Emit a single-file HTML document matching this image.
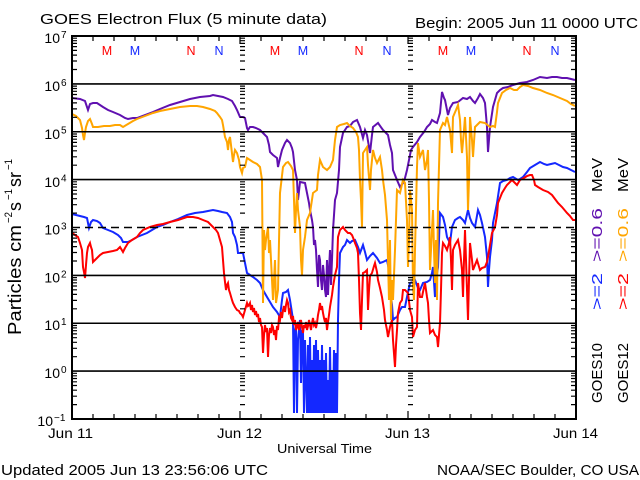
<!DOCTYPE html>
<html><head><meta charset="utf-8"><style>
html,body{margin:0;padding:0;background:#fff;}
svg{display:block;}
text{font-family:"Liberation Sans",sans-serif;fill:#000;}
</style></head><body>
<svg width="640" height="480" viewBox="0 0 640 480" xmlns="http://www.w3.org/2000/svg">
<rect width="640" height="480" fill="#fff"/>
<defs>
<path id="yt" stroke="#000" stroke-width="1.2" fill="none" d="M0 404.6h5M0 396.2h5M0 390.2h5M0 385.5h5M0 381.8h5M0 378.5h5M0 375.8h5M0 373.3h5M0 356.7h5M0 348.3h5M0 342.3h5M0 337.7h5M0 333.9h5M0 330.7h5M0 327.9h5M0 325.5h5M0 308.8h5M0 300.4h5M0 294.4h5M0 289.8h5M0 286h5M0 282.8h5M0 280h5M0 277.6h5M0 261h5M0 252.5h5M0 246.6h5M0 241.9h5M0 238.1h5M0 234.9h5M0 232.2h5M0 229.7h5M0 213.1h5M0 204.7h5M0 198.7h5M0 194h5M0 190.3h5M0 187h5M0 184.3h5M0 181.8h5M0 165.2h5M0 156.8h5M0 150.8h5M0 146.2h5M0 142.4h5M0 139.2h5M0 136.4h5M0 134h5M0 117.3h5M0 108.9h5M0 102.9h5M0 98.3h5M0 94.5h5M0 91.3h5M0 88.5h5M0 86.1h5M0 69.5h5M0 61h5M0 55.1h5M0 50.4h5M0 46.6h5M0 43.4h5M0 40.7h5M0 38.2h5"/>
</defs>

<!-- series -->
<g fill="none" stroke-width="2" stroke-linejoin="miter">
<polyline stroke="#6010b0" points="72,98 80,99 85,101 88,110 90,104 93,103 97,103 103,107 108,110 113,112 120,115 125,118 128,119 133,118 137,118 145,115 153,112 160,109 170,105 180,102 190,99 200,97 210,96 213,95 218,96 223,97 228,99 232,101 235,106 237,110 240,117 243,117 245,118 247,128 248,130 250,127 253,127 256,128 260,130 264,134 267,137 269,145 270,152 273,155 277,158 278,167 280,158 282,150 285,143 287,140 290,143 292,148 293,152 295,170 297,180 298,200 300,182 305,183 307,193 309,203 310,210 312,220 313,227 314,245 315,240 316,250 317,270 318,287 319,255 320,260 321,280 322,290 323,265 324,275 325,290 326,297 327,260 328,295 329,270 330,250 331,285 332,260 333,230 335,200 337,193 339,170 340,147 343,133 347,127 350,126 353,122 357,120 360,127 363,138 365,130 367,135 370,153 372,135 373,127 378,123 383,130 386,133 388,135 390,145 392,153 393,170 397,180 400,187 403,183 405,178 407,170 409,160 411,150 413,147 417,142 420,137 424,132 427,127 430,124 432,120 435,122 437,123 440,113 442,92 444,98 445,100 448,115 450,108 453,103 458,102 463,98 467,99 470,97 473,101 475,103 478,98 480,94 483,98 485,103 487,127 488,152 490,127 493,107 497,93 500,90 503,88 508,87 513,85 520,83 527,82 533,80 540,77 547,78 552,77 557,77 562,78 567,78 571,79 575,80"/>
<polyline stroke="#1428ff" points="72,214 76,215 80,216 84,217 87,218 89,228 91,222 93,220 97,221 100,223 103,228 108,230 113,232 118,235 121,238 123,242 128,242 132,240 137,237 142,235 147,233 152,230 157,227 163,225 170,222 178,219 187,215 195,213 203,212 208,211 213,210 218,211 222,212 227,213 230,217 232,222 233,233 235,237 237,245 238,253 240,253 243,253 245,263 247,273 250,275 253,277 257,280 260,283 263,290 267,297 270,302 273,307 277,312 280,317 282,300 283,293 286,292 288,290 290,300 292,313 293,320 294,413 295,330 296,325 297,413 298,340 299,330 300,320 301,383 302,330 303,333 304,413 305,340 306,380 307,413 308,345 309,413 310,337 311,413 312,360 313,413 314,345 315,413 316,340 317,413 318,350 319,413 320,360 321,413 322,345 323,413 324,360 325,413 326,353 327,413 328,380 329,413 330,347 331,413 332,370 333,413 334,350 335,413 336,353 337,413 338,320 339,280 340,253 343,247 345,245 347,240 350,243 352,241 355,240 358,247 360,253 363,245 365,252 367,260 370,256 373,253 377,258 380,263 383,262 387,260 389,270 390,287 392,305 393,320 395,318 397,317 400,310 402,307 405,307 407,297 410,283 413,282 415,280 418,288 420,290 423,283 427,282 430,280 432,273 433,267 435,297 436,280 438,267 440,213 443,217 445,225 447,237 450,243 452,227 455,220 458,218 460,217 463,220 465,223 468,210 470,218 472,223 475,227 478,210 480,215 482,223 485,237 487,257 488,287 489,270 490,257 492,240 493,223 495,213 497,203 500,183 503,181 507,180 510,178 513,177 518,180 520,179 523,177 527,172 530,168 535,165 540,162 544,164 547,165 551,164 555,163 559,165 563,167 567,168 571,170 575,172"/>
<polyline stroke="#ffa500" points="72,114 76,116 80,120 82,128 83,135 84,140 85,133 86,127 88,121 90,119 92,124 93,127 96,127 98,127 104,126 110,126 115,125 120,125 123,127 128,124 133,121 137,119 145,116 153,113 160,111 170,109 180,107 190,106 197,106 203,107 210,109 215,111 217,113 220,117 222,120 223,125 225,137 227,142 228,150 229,140 230,137 231,145 233,162 234,155 235,150 237,153 239,160 240,167 242,173 243,168 245,167 247,158 250,160 253,162 257,164 260,167 262,180 263,303 264,230 265,250 266,240 268,227 269,253 270,240 272,280 273,300 275,260 276,303 278,290 280,193 283,167 286,163 288,162 291,166 293,170 294,200 295,233 296,210 297,193 298,210 300,227 301,260 302,275 303,250 305,237 307,220 310,213 313,193 317,190 318,175 320,160 323,167 327,170 330,167 333,160 335,140 337,127 340,125 344,124 347,123 350,126 353,128 356,132 358,137 359,150 360,180 361,200 362,227 363,153 365,150 367,147 368,165 370,190 371,170 373,150 375,158 377,163 380,157 382,170 383,180 385,195 387,220 388,260 389,300 390,240 391,320 392,280 393,300 395,250 397,190 400,193 403,180 405,183 407,220 408,267 409,240 410,190 412,210 413,287 414,300 415,250 417,167 418,143 420,157 423,150 425,170 427,160 428,150 429,200 430,270 432,230 433,210 434,250 435,283 436,240 437,300 438,203 440,130 443,123 445,125 447,117 450,130 452,153 453,117 456,110 458,105 460,120 461,140 462,153 464,130 465,117 467,157 468,210 469,180 470,117 472,140 473,157 475,127 478,124 480,122 485,123 490,127 493,126 495,127 497,112 498,103 502,93 506,90 510,88 514,90 517,90 520,87 523,85 528,86 533,88 540,90 547,93 553,95 560,98 567,101 571,104 575,106"/>
<polyline stroke="#ff0000" points="72,233 75,235 78,237 80,243 82,250 83,267 84,272 85,278 86,265 87,253 88,247 90,243 91,247 92,250 93,262 95,260 97,258 100,255 103,253 108,252 113,251 117,250 120,247 123,252 125,248 128,243 132,240 137,237 140,233 143,230 150,227 157,225 163,224 170,222 178,220 187,217 193,217 198,218 203,220 208,222 213,227 216,230 218,233 220,240 222,247 223,260 224,273 225,282 226,290 227,285 228,283 229,290 230,293 232,300 233,303 235,307 237,310 239,311 240,313 242,315 243,317 245,310 247,303 248,306 249,305 250,303 251,310 252,305 253,312 254,308 255,315 256,311 257,317 258,314 259,322 260,318 261,325 262,327 263,353 264,335 265,325 266,332 267,328 268,357 269,335 270,328 271,333 272,325 273,327 274,335 275,330 276,340 277,326 278,330 279,318 280,320 281,312 282,318 283,310 284,306 285,312 286,305 287,300 288,303 289,312 290,310 291,318 292,320 293,316 294,325 295,320 296,330 297,327 298,322 299,330 300,325 301,320 302,327 303,333 304,325 305,328 306,322 307,330 308,326 309,320 310,325 311,330 312,323 313,318 314,325 315,323 316,328 317,323 318,315 319,310 320,303 321,310 322,306 323,313 324,318 325,322 326,318 327,330 328,322 329,315 330,307 332,295 333,287 335,275 337,267 338,237 340,230 343,227 345,230 348,233 350,233 352,235 354,240 355,243 357,248 358,253 359,280 360,313 361,330 362,300 363,273 365,272 367,270 368,310 369,290 370,276 372,273 374,266 375,263 377,272 378,280 380,288 382,297 384,310 385,320 387,330 388,337 390,327 392,320 393,340 395,367 396,345 397,330 398,313 400,303 402,300 403,290 405,290 408,293 410,310 412,317 413,337 415,330 417,327 418,283 420,297 422,297 423,292 425,283 427,297 428,303 429,320 430,333 433,330 435,335 437,337 438,347 439,335 440,323 441,290 442,253 443,243 445,246 447,250 449,243 450,237 451,260 452,290 453,250 455,245 458,240 460,250 462,270 463,297 464,260 465,230 466,260 467,290 468,320 469,280 470,243 472,260 473,270 475,265 477,260 480,270 482,268 485,267 487,262 488,257 490,245 492,233 495,227 497,215 498,203 500,198 502,193 505,188 507,185 510,182 512,180 515,183 517,185 520,180 524,178 527,176 530,175 532,175 534,180 535,185 538,187 543,190 548,192 552,195 555,199 558,203 562,207 567,213 570,216 573,220 575,220"/>
</g>

<!-- gridlines -->
<g stroke="#000" stroke-width="1.6">
<line x1="72" y1="83.9" x2="576" y2="83.9"/>
<line x1="72" y1="131.75" x2="576" y2="131.75"/>
<line x1="72" y1="179.6" x2="576" y2="179.6"/>
<line x1="72" y1="227.5" x2="576" y2="227.5" stroke-dasharray="8 5"/>
<line x1="72" y1="275.4" x2="576" y2="275.4"/>
<line x1="72" y1="323.25" x2="576" y2="323.25"/>
<line x1="72" y1="371.1" x2="576" y2="371.1"/>
</g>

<!-- y minor ticks -->
<use href="#yt" x="72"/>
<use href="#yt" x="240"/>
<use href="#yt" x="408"/>
<use href="#yt" x="571"/>

<!-- x ticks -->
<path stroke="#000" stroke-width="1.2" fill="none" d="M93 419v-5M114 419v-5M135 419v-5M156 419v-5M177 419v-5M198 419v-5M219 419v-5M240 419v-8M261 419v-5M282 419v-5M303 419v-5M324 419v-5M345 419v-5M366 419v-5M387 419v-5M408 419v-8M429 419v-5M450 419v-5M471 419v-5M492 419v-5M513 419v-5M534 419v-5M555 419v-5
M93 36v5M114 36v5M135 36v5M156 36v5M177 36v5M198 36v5M219 36v5M240 36v8M261 36v5M282 36v5M303 36v5M324 36v5M345 36v5M366 36v5M387 36v5M408 36v8M429 36v5M450 36v5M471 36v5M492 36v5M513 36v5M534 36v5M555 36v5"/>

<!-- axes box -->
<rect x="72" y="36" width="504" height="383" fill="none" stroke="#000" stroke-width="2"/>

<!-- M/N markers -->
<g font-size="12.5" text-anchor="middle">
<text x="107" y="55" style="fill:#ff0000">M</text>
<text x="135" y="55" style="fill:#1428ff">M</text>
<text x="191" y="55" style="fill:#ff0000">N</text>
<text x="219" y="55" style="fill:#1428ff">N</text>
<text x="275" y="55" style="fill:#ff0000">M</text>
<text x="303" y="55" style="fill:#1428ff">M</text>
<text x="359" y="55" style="fill:#ff0000">N</text>
<text x="387" y="55" style="fill:#1428ff">N</text>
<text x="443" y="55" style="fill:#ff0000">M</text>
<text x="471" y="55" style="fill:#1428ff">M</text>
<text x="527" y="55" style="fill:#ff0000">N</text>
<text x="555" y="55" style="fill:#1428ff">N</text>
</g>

<!-- y labels -->
<g font-size="14" text-anchor="end">
<text x="60" y="43">10</text>
<text x="60" y="91">10</text>
<text x="60" y="139">10</text>
<text x="60" y="187">10</text>
<text x="60" y="234.5">10</text>
<text x="60" y="282.5">10</text>
<text x="60" y="330">10</text>
<text x="60" y="378">10</text>
<text x="53" y="426">10</text>
</g>
<g font-size="10">
<text x="61" y="38">7</text>
<text x="61" y="86">6</text>
<text x="61" y="133.5">5</text>
<text x="61" y="181.5">4</text>
<text x="61" y="229.5">3</text>
<text x="61" y="277.5">2</text>
<text x="61" y="325">1</text>
<text x="61" y="373">0</text>
<text x="54" y="421">−1</text>
</g>

<!-- title texts -->
<text x="40" y="24" font-size="15" textLength="287" lengthAdjust="spacingAndGlyphs">GOES Electron Flux (5 minute data)</text>
<text x="415" y="28" font-size="15" textLength="223" lengthAdjust="spacingAndGlyphs">Begin: 2005 Jun 11 0000 UTC</text>

<!-- x labels -->
<g font-size="14">
<text x="48" y="438" textLength="45" lengthAdjust="spacingAndGlyphs">Jun 11</text>
<text x="217" y="438" textLength="45" lengthAdjust="spacingAndGlyphs">Jun 12</text>
<text x="385" y="438" textLength="45" lengthAdjust="spacingAndGlyphs">Jun 13</text>
<text x="553" y="438" textLength="45" lengthAdjust="spacingAndGlyphs">Jun 14</text>
</g>
<text x="277" y="453" font-size="13" textLength="95" lengthAdjust="spacingAndGlyphs">Universal Time</text>
<text x="1" y="475" font-size="15" textLength="267" lengthAdjust="spacingAndGlyphs">Updated 2005 Jun 13 23:56:06 UTC</text>
<text x="437" y="475" font-size="15" textLength="202" lengthAdjust="spacingAndGlyphs">NOAA/SEC Boulder, CO USA</text>

<!-- y axis title -->
<g transform="rotate(-90)">
<text x="-335" y="21" font-size="18" textLength="110" lengthAdjust="spacingAndGlyphs">Particles cm</text>
<text x="-223" y="12" font-size="11" textLength="11" lengthAdjust="spacingAndGlyphs">−2</text>
<text x="-211" y="21" font-size="18" textLength="9" lengthAdjust="spacingAndGlyphs">s</text>
<text x="-200" y="12" font-size="11" textLength="11" lengthAdjust="spacingAndGlyphs">−1</text>
<text x="-187" y="21" font-size="18" textLength="15" lengthAdjust="spacingAndGlyphs">sr</text>
<text x="-170" y="12" font-size="11" textLength="11" lengthAdjust="spacingAndGlyphs">−1</text>
</g>

<!-- right side legend -->
<g transform="rotate(-90)" font-size="15">
<text x="-403" y="602" textLength="60" lengthAdjust="spacingAndGlyphs">GOES10</text>
<text x="-310" y="602" textLength="37" lengthAdjust="spacingAndGlyphs" style="fill:#1428ff">&gt;=2</text>
<text x="-262" y="602" textLength="54" lengthAdjust="spacingAndGlyphs" style="fill:#6010b0">&gt;=0.6</text>
<text x="-192" y="602" textLength="34" lengthAdjust="spacingAndGlyphs">MeV</text>
<text x="-403" y="628" textLength="60" lengthAdjust="spacingAndGlyphs">GOES12</text>
<text x="-310" y="628" textLength="37" lengthAdjust="spacingAndGlyphs" style="fill:#ff0000">&gt;=2</text>
<text x="-262" y="628" textLength="54" lengthAdjust="spacingAndGlyphs" style="fill:#ffa500">&gt;=0.6</text>
<text x="-192" y="628" textLength="34" lengthAdjust="spacingAndGlyphs">MeV</text>
</g>
</svg>
</body></html>
